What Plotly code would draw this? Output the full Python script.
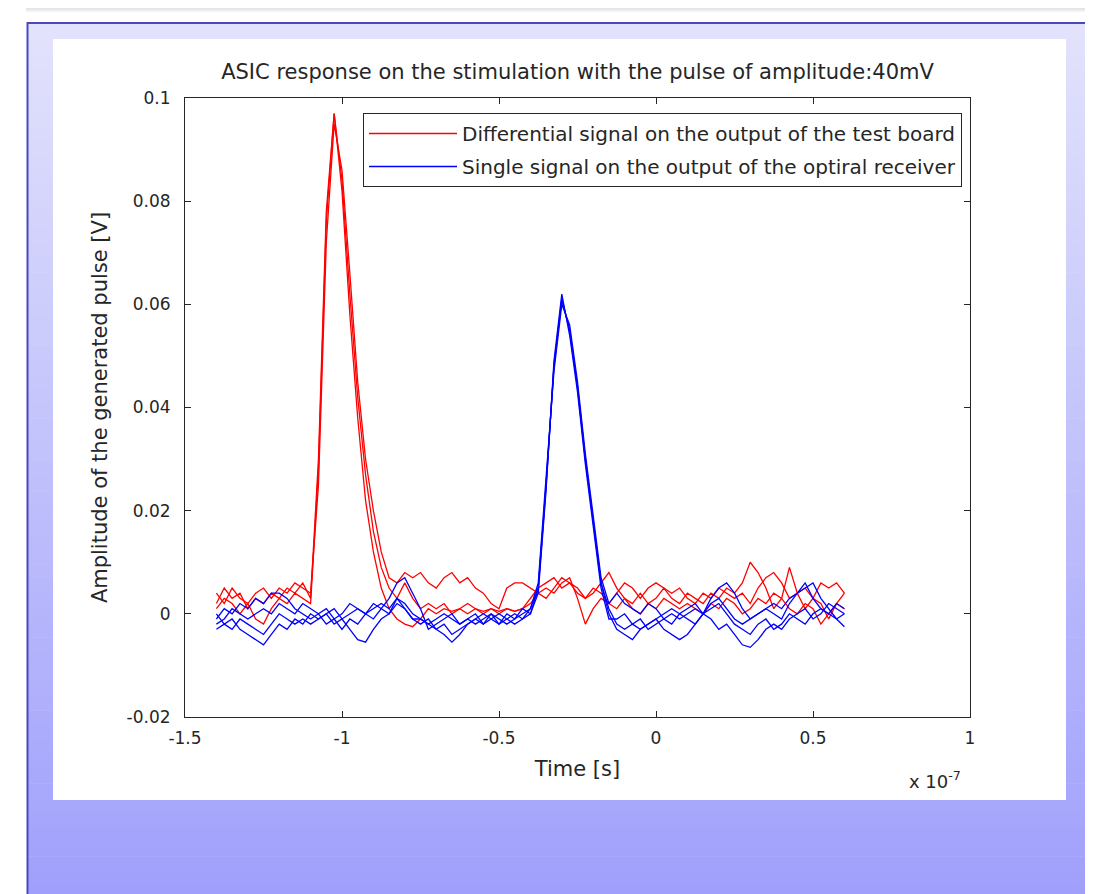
import plotly.graph_objects as go

# --------------------------
# Data
# time in units of 1e-7 s, amplitudes in mV
# --------------------------
TIME = [
    -1.400, -1.375, -1.350, -1.325, -1.300, -1.275, -1.250, -1.225, -1.200, -1.175,
    -1.150, -1.125, -1.100, -1.075, -1.050, -1.025, -1.000, -0.975, -0.950, -0.925,
    -0.900, -0.875, -0.850, -0.825, -0.800, -0.775, -0.750, -0.725, -0.700, -0.675,
    -0.650, -0.625, -0.600, -0.575, -0.550, -0.525, -0.500, -0.475, -0.450, -0.425,
    -0.400, -0.375, -0.350, -0.325, -0.300, -0.275, -0.250, -0.225, -0.200, -0.175,
    -0.150, -0.125, -0.100, -0.075, -0.050, -0.025, 0.000, 0.025, 0.050, 0.075,
    0.100, 0.125, 0.150, 0.175, 0.200, 0.225, 0.250, 0.275, 0.300, 0.325,
    0.350, 0.375, 0.400, 0.425, 0.450, 0.475, 0.500, 0.525, 0.550, 0.575, 0.600,
]

# differential signal (test board), 3 acquisitions
RED_1 = [
    2, 5, 3, 4, 1, 3, 2, 4, 3, 5, 4, 6, 3,
    30, 78, 97, 82, 58, 38, 22, 12, 5, 1,
    -1, -2, -2.5, -1, 1, 0, 1, 0.5, 1, 0, 1, 0.5, 1, 0, 1, 0.5, 1,
    2, 4, 5, 4, 6, 7, 3, -2, 1, 3, 2,
    1, 3, 2, 4, 2, 3, 5, 3, 2, 4, 3, 2, 4, 3, 5, 4, 6, 10, 8, 5,
    1, 3, 9, 4, 1, 3, 2, -1, 2, 4,
]
RED_2 = [
    4, 2, 5, 3, 2, 4, 5, 3, 5, 4, 6, 5, 4,
    25, 72, 95, 86, 66, 45, 30, 20, 12, 7,
    6, 8, 7, 8, 6, 5, 7, 8, 6, 7, 5, 4, 2, 1, 5, 6, 6,
    5, 4, 3, 5, 7, 6, 4, 3, 5, 4, 2,
    4, 6, 5, 3, 5, 6, 5, 4, 5, 3, 2, 4, 3, 5, 4, 3, 4, 2, 5, 7,
    8, 6, 3, 4, 5, 3, 6, 5, 6, 4,
]
RED_3 = [
    1, 3, 2, 0, 2, -1, -2, 1, 3, 2, 4, 3, 2,
    28, 76, 97, 84, 62, 42, 27, 16, 9, 5,
    3, 6, 3, 1, 2, 1, 2, 0, 1, 2, 1, 0, 1, 0.5, 1, 0.5, 1,
    3, 5, 6, 7, 5, 6, 5, 3, 4, 6, 8,
    5, 3, 1, 0, 2, 1, 3, 2, 1, 2, 1, 0, 2, 1, 3, 2, 0, 1, 3, 2,
    4, 3, 1, 0, 2, 1, -2, 0, 2, 1,
]

# single signal (optical receiver), 4 acquisitions
BLUE_1 = [
    -1, 1, 0, 2, 1, 3, 2, 4, 4, 3, 1, 0, -1,
    0, -2, -1, -3, -1, -2, 0, -1, 1, 3, 6, 7, 4, 1, -3, -2, -1, 0, -2, -1, 0, -2, -1, 0, -1, -2, -1,
    0, 5, 25, 48, 61, 55, 44, 30, 18, 6, 0,
    -3, -4, -5, -3, -2, -1, -3, -4, -5, -4, -2, 0, 3, 5, 6, 4, 1, -1, 0, 1,
    0, -1, 2, 4, 5, 6, 3, 1, -1, -2.5,
]
BLUE_2 = [
    0, -2, -1, -3, -4, -5, -6, -4, -2, -3, -1, -2, 0,
    -1, 0, -2, -1, -3, -5, -5.5, -3, -1, 0, 2, 1, -1, -2, -1, -3, -4, -5.5, -4, -2, -1, -2, 0, -1, -2, -1, 0,
    1, 6, 26, 47, 60, 56, 45, 31, 19, 7, 2,
    4, 2, 1, 0, 2, 1, -1, -2, 0, 1, 2, 0, -1, -3, -2, -4, -6, -6.5, -5, -3,
    -2, -3, -1, 0, 1, -1, 0, 2, 1, 0,
]
BLUE_3 = [
    -2, -1, 1, 0, -1, 0, 1, 0, 2, 1, 0, 2, 1,
    0, 1, -1, 0, 2, 1, 0, 2, 1, 0, 3, 2, 0, -1, -2, -3, -2, -4, -3, -2, -1, 0, -1, -2, 0, -1, 1,
    0, 4, 24, 49, 62, 54, 43, 29, 17, 5, -1,
    -1, 0, -2, -3, -2, -1, 0, 1, 0, -1, -2, 0, 1, 2, 0, -2, -3, -4, -2, -1,
    -3, -2, 0, -1, -2, 0, 1, 0, -1, 0,
]
BLUE_4 = [
    -3, -2, -3, -1, -2, -3, -4, -2, 0, -1, -2, -1, -2,
    -1, 0, 1, -1, 0, 1, 0, 1, 2, 1, 3, 1, -1, -1, -2, -1, 0, -1, -2, -1, -2, -1, 0, -2, -1, 0, -1,
    1, 5, 25, 48, 61, 55, 44, 30, 18, 6, 1,
    -2, -3, -2, -1, -3, -2, -1, 0, -1, 0, 1, 0, 2, 3, 1, -1, -2, -1, 0, 1,
    2, 1, 3, 4, 6, 3, 1, 0, 2, 1,
]

X_TICKS = [-1.5, -1, -0.5, 0, 0.5, 1]
X_TICK_LABELS = ["-1.5", "-1", "-0.5", "0", "0.5", "1"]
Y_TICKS = [-0.02, 0, 0.02, 0.04, 0.06, 0.08, 0.1]
Y_TICK_LABELS = ["-0.02", "0", "0.02", "0.04", "0.06", "0.08", "0.1"]

RED_NAME = "Differential signal on the output of the test board"
BLUE_NAME = "Single signal on the output of the optiral receiver"

# --------------------------
# Geometry: the page puts the figure at (8, 8), so figure px = page px - 8
# --------------------------
W, H = 1085, 886
OFF = 8
L, R, T, B = 185 - OFF, 970 - OFF, 98 - OFF, 717 - OFF


def px(x):
    # page pixel -> paper x
    return (x - OFF - L) / (R - L)


def py(y):
    # page pixel -> paper y
    return (B - (y - OFF)) / (B - T)


FONT = "DejaVu Sans, Verdana, sans-serif"
INK = "#262626"

fig = go.Figure()

for i, tr in enumerate([RED_1, RED_2, RED_3]):
    fig.add_trace(go.Scatter(
        x=TIME, y=[v / 1000 for v in tr], mode="lines",
        line=dict(color="#ff0000", width=1.3),
        name=RED_NAME, legendgroup="red", showlegend=(i == 0),
    ))
for i, tr in enumerate([BLUE_1, BLUE_2, BLUE_3, BLUE_4]):
    fig.add_trace(go.Scatter(
        x=TIME, y=[v / 1000 for v in tr], mode="lines",
        line=dict(color="#0000ff", width=1.3),
        name=BLUE_NAME, legendgroup="blue", showlegend=(i == 0),
    ))

# --------------------------
# Slide-like background
# --------------------------
shapes = []
# top strip: soft grey shadow under the (off-page) dark line
for k in range(5):
    g = 190 + k * 13
    shapes.append(dict(type="rect", xref="paper", yref="paper",
                       x0=px(26), x1=px(1100), y0=py(2 + k * 2), y1=py(4 + k * 2),
                       line=dict(width=0), fillcolor=f"rgb({g},{g},{g + 4})", layer="below"))

# gradient frame
top, bot, n = 24, 900, 60
step = (bot - top) / n
for k in range(n):
    f = k / (n - 1)
    r = round(226 - 66 * f)
    shapes.append(dict(type="rect", xref="paper", yref="paper",
                       x0=px(28), x1=px(1100), y0=py(top + k * step), y1=py(top + (k + 1) * step + 0.5),
                       line=dict(width=0), fillcolor=f"rgb({r},{r},252)", layer="below"))
shapes.append(dict(type="line", xref="paper", yref="paper",
                   x0=px(27), x1=px(1100), y0=py(23), y1=py(23),
                   line=dict(color="#4848c0", width=2), layer="below"))
shapes.append(dict(type="line", xref="paper", yref="paper",
                   x0=px(27.5), x1=px(27.5), y0=py(22), y1=py(900),
                   line=dict(color="#4848c0", width=2), layer="below"))
# white figure panel
shapes.append(dict(type="rect", xref="paper", yref="paper",
                   x0=px(53), x1=px(1066), y0=py(39), y1=py(800),
                   line=dict(width=0), fillcolor="white", layer="below"))

axis_common = dict(
    showline=True, linecolor=INK, linewidth=1, mirror="allticks",
    ticks="inside", ticklen=6, tickcolor=INK, tickwidth=1,
    showgrid=False, zeroline=False,
    tickfont=dict(family=FONT, size=17, color=INK),
)

fig.update_layout(
    width=W, height=H,
    margin=dict(l=L, r=W - R, t=T, b=H - B, pad=0),
    paper_bgcolor="white", plot_bgcolor="white",
    font=dict(family=FONT, color=INK),
    shapes=shapes,
    title=dict(text="ASIC response on the stimulation with the pulse of amplitude:40mV",
               x=0.5, xref="paper", xanchor="center",
               y=1 - (72 - OFF) / H, yanchor="middle",
               font=dict(family=FONT, size=21, color=INK)),
    xaxis=dict(range=[-1.5, 1], tickvals=X_TICKS, ticktext=X_TICK_LABELS,
               ticklabelstandoff=6,
               title=dict(text="Time [s]", standoff=13, font=dict(family=FONT, size=21, color=INK)),
               **axis_common),
    yaxis=dict(range=[-0.02, 0.1], tickvals=Y_TICKS, ticktext=Y_TICK_LABELS,
               ticklabelstandoff=10,
               title=dict(text="Amplitude of the generated pulse [V]", standoff=13,
                          font=dict(family=FONT, size=21, color=INK)),
               **axis_common),
    legend=dict(x=px(962), xanchor="right", y=py(113), yanchor="top",
                bgcolor="white", bordercolor=INK, borderwidth=1,
                font=dict(family=FONT, size=20, color=INK),
                tracegroupgap=4, itemwidth=88),
    annotations=[dict(text="x 10<sup>-7</sup>", xref="paper", yref="paper",
                      x=px(935), y=py(780), xanchor="center", yanchor="middle",
                      showarrow=False, font=dict(family=FONT, size=18, color=INK))],
    showlegend=True,
)

fig.write_html("out.html")
